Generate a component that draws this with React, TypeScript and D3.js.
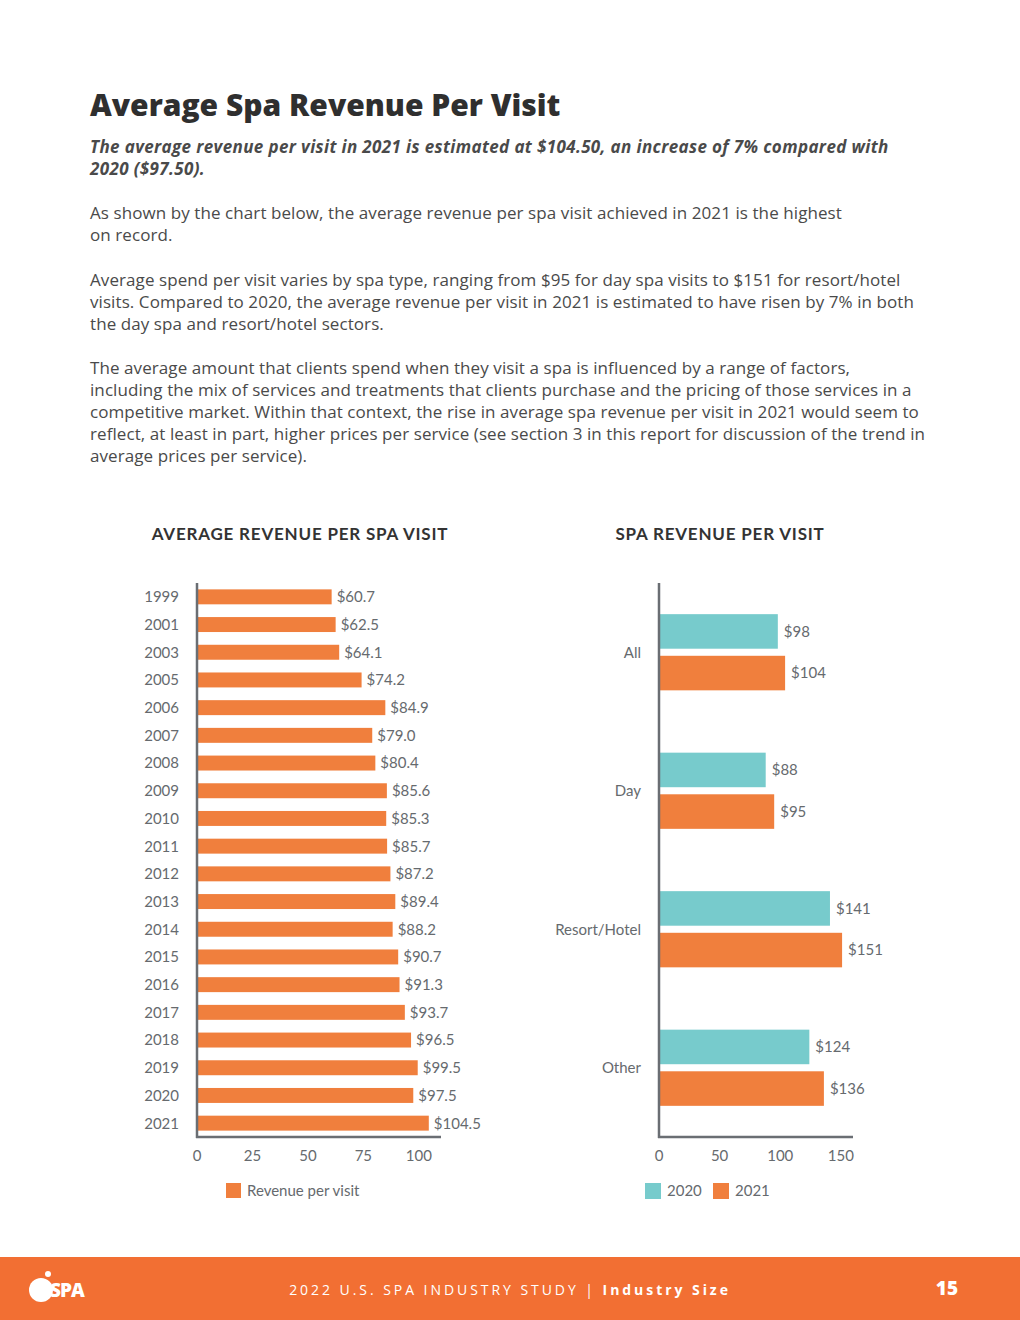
import React from "react";
import * as d3 from "d3";

const years = ["1999","2001","2003","2005","2006","2007","2008","2009","2010","2011","2012","2013","2014","2015","2016","2017","2018","2019","2020","2021"];
const revenue = [60.7,62.5,64.1,74.2,84.9,79.0,80.4,85.6,85.3,85.7,87.2,89.4,88.2,90.7,91.3,93.7,96.5,99.5,97.5,104.5];
const leftTicks = [0,25,50,75,100];

const spaTypes = ["All","Day","Resort/Hotel","Other"];
const seriesKeys = ["2020","2021"];
const values2020 = [98,88,141,124];
const values2021 = [104,95,151,136];
const rightTicks = [0,50,100,150];

const ORANGE = "#F07F3D";
const TEAL = "#77CBCC";
const FOOTER = "#F26F33";
const AXIS = "#6A6E73";
const LABEL = "#666a6e";
const TEXT = "#4a4a4a";
const CHART_FONT = "Lato, 'Open Sans', sans-serif";
const BODY_FONT = "'Open Sans', Lato, sans-serif";

const subtitle = [
  "The average revenue per visit in 2021 is estimated at $104.50, an increase of 7% compared with",
  "2020 ($97.50).",
];
const para1 = [
  "As shown by the chart below, the average revenue per spa visit achieved in 2021 is the highest",
  "on record.",
];
const para2 = [
  "Average spend per visit varies by spa type, ranging from $95 for day spa visits to $151 for resort/hotel",
  "visits. Compared to 2020, the average revenue per visit in 2021 is estimated to have risen by 7% in both",
  "the day spa and resort/hotel sectors.",
];
const para3 = [
  "The average amount that clients spend when they visit a spa is influenced by a range of factors,",
  "including the mix of services and treatments that clients purchase and the pricing of those services in a",
  "competitive market. Within that context, the rise in average spa revenue per visit in 2021 would seem to",
  "reflect, at least in part, higher prices per service (see section 3 in this report for discussion of the trend in",
  "average prices per service).",
];

export default function App() {
  // Left chart scales
  const xL = d3.scaleLinear().domain([0, 110]).range([197, 441]);
  const yL = d3.scaleBand().domain(years).range([583, 1137]).paddingInner(0.46).paddingOuter(0.23);
  const fmtL = d3.format("$.1f");

  // Right chart scales
  const xR = d3.scaleLinear().domain([0, 160]).range([659, 853]);
  const yR = d3.scaleBand().domain(spaTypes).range([583, 1137]).paddingInner(0.45).paddingOuter(0.225);
  const ySub = d3.scaleBand().domain(seriesKeys).range([0, yR.bandwidth()]).paddingInner(0.17);
  const colorR = d3.scaleOrdinal<string, string>().domain(seriesKeys).range([TEAL, ORANGE]);
  const fmtR = (v: number) => "$" + d3.format(".0f")(v);
  const rightData = spaTypes.map((t, i) => ({ type: t, vals: [values2020[i], values2021[i]] }));

  const bodyLine = (lines: string[], y0: number, key: string) =>
    lines.map((l, i) => (
      <text key={key + i} x={90} y={y0 + i * 22} fontFamily={BODY_FONT} fontSize={17} letterSpacing={0.08} fill={TEXT}>{l}</text>
    ));

  return (
    <svg width={1020} height={1320} style={{ position: "absolute", left: 0, top: 0, background: "#fff" }}>
      <rect x={0} y={0} width={1020} height={1320} fill="#fff" />
      <text x={90} y={116} fontFamily="'Open Sans', sans-serif" fontWeight={800} fontSize={30} fill="#2f2f2f">Average Spa Revenue Per Visit</text>
      {subtitle.map((l, i) => (
        <text key={"s" + i} x={90} y={153 + i * 22} fontFamily={BODY_FONT} fontStyle="italic" fontWeight={700} fontSize={17} letterSpacing={0.37} fill="#4a4a4a">{l}</text>
      ))}
      {bodyLine(para1, 219, "a")}
      {bodyLine(para2, 286, "b")}
      {bodyLine(para3, 374, "c")}

      {/* Left chart */}
      <text x={300} y={540} textAnchor="middle" fontFamily={CHART_FONT} fontWeight={700} fontSize={17} letterSpacing={0.8} fill="#333">AVERAGE REVENUE PER SPA VISIT</text>
      {years.map((y, i) => (
        <g key={y}>
          <rect x={xL(0)} y={yL(y)!} width={xL(revenue[i]) - xL(0)} height={yL.bandwidth()} fill={ORANGE} />
          <text x={xL(revenue[i]) + 5} y={yL(y)! + yL.bandwidth() / 2} dy="0.36em" fontFamily={CHART_FONT} fontSize={15} fill={LABEL}>{fmtL(revenue[i])}</text>
          <text x={179} y={yL(y)! + yL.bandwidth() / 2} dy="0.36em" textAnchor="end" fontFamily={CHART_FONT} fontSize={15} fill={LABEL}>{y}</text>
        </g>
      ))}
      <line x1={197} x2={197} y1={583} y2={1138} stroke={AXIS} strokeWidth={2.5} />
      <line x1={196} x2={441} y1={1137} y2={1137} stroke={AXIS} strokeWidth={2.5} />
      {leftTicks.map((t) => (
        <text key={t} x={xL(t)} y={1161} textAnchor="middle" fontFamily={CHART_FONT} fontSize={15} fill={LABEL}>{t}</text>
      ))}
      <rect x={226} y={1183} width={15} height={15} fill={ORANGE} />
      <text x={247} y={1196} fontFamily={CHART_FONT} fontSize={15} fill={LABEL}>Revenue per visit</text>

      {/* Right chart */}
      <text x={720} y={540} textAnchor="middle" fontFamily={CHART_FONT} fontWeight={700} fontSize={17} letterSpacing={0.8} fill="#333">SPA REVENUE PER VISIT</text>
      {rightData.map((d) => (
        <g key={d.type} transform={`translate(0,${yR(d.type)})`}>
          <text x={641} y={yR.bandwidth() / 2} dy="0.36em" textAnchor="end" fontFamily={CHART_FONT} fontSize={15} fill={LABEL}>{d.type}</text>
          {seriesKeys.map((k, j) => (
            <g key={k}>
              <rect x={xR(0)} y={ySub(k)!} width={xR(d.vals[j]) - xR(0)} height={ySub.bandwidth()} fill={colorR(k)} />
              <text x={xR(d.vals[j]) + 6} y={ySub(k)! + ySub.bandwidth() / 2} dy="0.36em" fontFamily={CHART_FONT} fontSize={15} fill={LABEL}>{fmtR(d.vals[j])}</text>
            </g>
          ))}
        </g>
      ))}
      <line x1={659} x2={659} y1={583} y2={1138} stroke={AXIS} strokeWidth={2.5} />
      <line x1={658} x2={853} y1={1137} y2={1137} stroke={AXIS} strokeWidth={2.5} />
      {rightTicks.map((t) => (
        <text key={t} x={xR(t)} y={1161} textAnchor="middle" fontFamily={CHART_FONT} fontSize={15} fill={LABEL}>{t}</text>
      ))}
      {seriesKeys.map((k, j) => (
        <g key={k}>
          <rect x={645 + j * 68} y={1183} width={16} height={16} fill={colorR(k)} />
          <text x={667 + j * 68} y={1196} fontFamily={CHART_FONT} fontSize={15} fill={LABEL}>{k}</text>
        </g>
      ))}

      {/* Footer */}
      <rect x={0} y={1257} width={1020} height={63} fill={FOOTER} />
      <circle cx={41} cy={1290} r={12} fill="#fff" />
      <circle cx={48} cy={1274} r={3} fill="#fff" />
      <text x={50} y={1297} fontFamily="'Open Sans', sans-serif" fontWeight={800} fontSize={19} letterSpacing={-1} fill="#fff">SPA</text>
      <text x={510} y={1295} textAnchor="middle" fontFamily={BODY_FONT} fontSize={14} letterSpacing={2.95} fill="#fff">
        2022 U.S. SPA INDUSTRY STUDY  |  <tspan fontWeight={700}>Industry Size</tspan>
      </text>
      <text x={947} y={1295} textAnchor="middle" fontFamily="'Open Sans', sans-serif" fontWeight={800} fontSize={19} fill="#fff">15</text>
    </svg>
  );
}
